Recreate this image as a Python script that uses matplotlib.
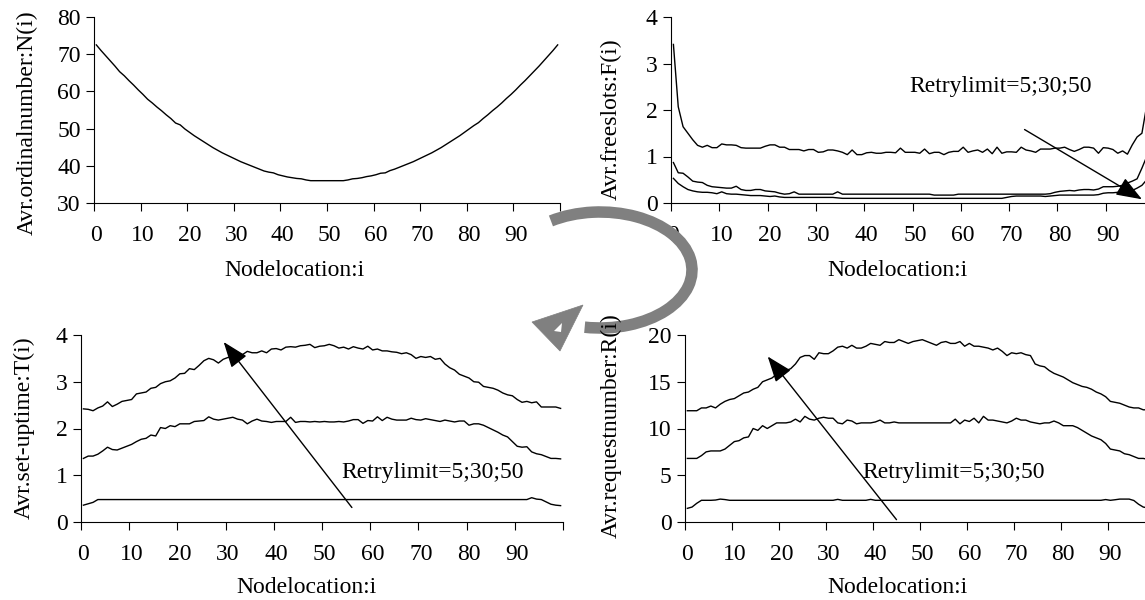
import numpy as np
import matplotlib
matplotlib.use("Agg")
import matplotlib.pyplot as plt
from matplotlib.patches import Arc, Polygon

plt.rcParams['font.family'] = ['Liberation Serif', 'DejaVu Serif']
FS = 17

# ---------------- data ----------------
nodes = np.arange(100)
xtick_vals = list(range(0, 100, 10))

N_ordinal = [
    72.5, 71.0, 69.6, 68.2, 66.8, 65.3, 64.2, 62.9, 61.7, 60.4,
    59.2, 57.9, 56.9, 55.8, 54.8, 53.7, 52.7, 51.5, 51.0, 49.9,
    49.0, 48.1, 47.3, 46.5, 45.7, 44.9, 44.2, 43.5, 42.9, 42.3,
    41.7, 41.1, 40.6, 40.1, 39.6, 39.1, 38.6, 38.3, 38.1, 37.6,
    37.3, 37.0, 36.8, 36.6, 36.5, 36.2, 36.0, 36.0, 36.0, 36.0,
    36.0, 36.0, 36.0, 36.0, 36.2, 36.5, 36.6, 36.8, 37.1, 37.3,
    37.6, 38.0, 38.1, 38.7, 39.1, 39.6, 40.1, 40.6, 41.1, 41.7,
    42.3, 42.9, 43.5, 44.2, 44.9, 45.7, 46.5, 47.3, 48.1, 49.0,
    49.9, 50.8, 51.6, 52.7, 53.7, 54.8, 55.8, 56.9, 58.1, 59.2,
    60.4, 61.7, 62.9, 64.2, 65.5, 66.8, 68.2, 69.6, 71.0, 72.5,
]

F_retry5 = [
    0.53, 0.42, 0.35, 0.29, 0.26, 0.24, 0.23, 0.23, 0.22, 0.20,
    0.24, 0.20, 0.19, 0.19, 0.18, 0.17, 0.16, 0.16, 0.16, 0.15,
    0.14, 0.15, 0.13, 0.12, 0.12, 0.12, 0.12, 0.12, 0.12, 0.12,
    0.12, 0.12, 0.12, 0.12, 0.11, 0.10, 0.10, 0.10, 0.10, 0.10,
    0.10, 0.10, 0.10, 0.10, 0.10, 0.10, 0.10, 0.10, 0.10, 0.10,
    0.10, 0.10, 0.10, 0.10, 0.10, 0.10, 0.10, 0.10, 0.10, 0.10,
    0.10, 0.10, 0.10, 0.10, 0.10, 0.10, 0.10, 0.10, 0.10, 0.12,
    0.14, 0.15, 0.15, 0.15, 0.15, 0.15, 0.15, 0.14, 0.15, 0.16,
    0.17, 0.17, 0.17, 0.17, 0.17, 0.17, 0.17, 0.17, 0.18, 0.21,
    0.22, 0.22, 0.23, 0.24, 0.25, 0.27, 0.32, 0.38, 0.50, 0.60,
]
F_retry30 = [
    0.87, 0.65, 0.64, 0.56, 0.47, 0.45, 0.44, 0.38, 0.35, 0.34,
    0.33, 0.32, 0.32, 0.36, 0.29, 0.27, 0.27, 0.29, 0.29, 0.26,
    0.25, 0.24, 0.21, 0.19, 0.20, 0.24, 0.19, 0.19, 0.19, 0.19,
    0.19, 0.19, 0.19, 0.19, 0.24, 0.19, 0.19, 0.19, 0.19, 0.19,
    0.19, 0.19, 0.19, 0.19, 0.19, 0.19, 0.19, 0.19, 0.19, 0.19,
    0.19, 0.19, 0.19, 0.19, 0.17, 0.17, 0.17, 0.17, 0.17, 0.19,
    0.19, 0.19, 0.19, 0.19, 0.19, 0.19, 0.19, 0.19, 0.19, 0.19,
    0.19, 0.19, 0.19, 0.19, 0.19, 0.19, 0.19, 0.19, 0.20, 0.23,
    0.25, 0.26, 0.27, 0.26, 0.28, 0.29, 0.29, 0.28, 0.30, 0.35,
    0.35, 0.35, 0.36, 0.38, 0.43, 0.47, 0.52, 0.75, 1.00, 1.20,
]
F_retry50 = [
    3.41, 2.07, 1.64, 1.50, 1.36, 1.24, 1.20, 1.24, 1.19, 1.19,
    1.27, 1.25, 1.25, 1.24, 1.19, 1.18, 1.18, 1.18, 1.18, 1.22,
    1.25, 1.25, 1.20, 1.20, 1.15, 1.15, 1.15, 1.12, 1.15, 1.15,
    1.09, 1.10, 1.14, 1.14, 1.12, 1.09, 1.04, 1.14, 1.04, 1.04,
    1.08, 1.09, 1.07, 1.07, 1.09, 1.09, 1.08, 1.18, 1.09, 1.09,
    1.09, 1.07, 1.16, 1.06, 1.09, 1.09, 1.04, 1.09, 1.11, 1.11,
    1.20, 1.09, 1.12, 1.14, 1.09, 1.16, 1.06, 1.20, 1.07, 1.10,
    1.10, 1.09, 1.20, 1.14, 1.12, 1.09, 1.16, 1.16, 1.16, 1.18,
    1.18, 1.20, 1.15, 1.11, 1.15, 1.20, 1.20, 1.18, 1.07, 1.19,
    1.18, 1.15, 1.07, 1.12, 1.05, 1.25, 1.42, 1.50, 2.10, 3.40,
]

T_retry5 = [
    0.36, 0.39, 0.42, 0.48, 0.48, 0.48, 0.48, 0.48, 0.48, 0.48,
    0.48, 0.48, 0.48, 0.48, 0.48, 0.48, 0.48, 0.48, 0.48, 0.48,
    0.48, 0.48, 0.48, 0.48, 0.48, 0.48, 0.48, 0.48, 0.48, 0.48,
    0.48, 0.48, 0.48, 0.48, 0.48, 0.48, 0.48, 0.48, 0.48, 0.48,
    0.48, 0.48, 0.48, 0.48, 0.48, 0.48, 0.48, 0.48, 0.48, 0.48,
    0.48, 0.48, 0.48, 0.48, 0.48, 0.48, 0.48, 0.48, 0.48, 0.48,
    0.48, 0.48, 0.48, 0.48, 0.48, 0.48, 0.48, 0.48, 0.48, 0.48,
    0.48, 0.48, 0.48, 0.48, 0.48, 0.48, 0.48, 0.48, 0.48, 0.48,
    0.48, 0.48, 0.48, 0.48, 0.48, 0.48, 0.48, 0.48, 0.48, 0.48,
    0.48, 0.48, 0.48, 0.52, 0.49, 0.48, 0.43, 0.38, 0.36, 0.35,
]
T_retry30 = [
    1.36, 1.41, 1.41, 1.45, 1.52, 1.60, 1.55, 1.54, 1.58, 1.62,
    1.66, 1.72, 1.77, 1.79, 1.86, 1.84, 2.02, 2.00, 2.06, 2.04,
    2.10, 2.10, 2.10, 2.15, 2.16, 2.17, 2.25, 2.20, 2.18, 2.20,
    2.22, 2.24, 2.20, 2.18, 2.10, 2.16, 2.20, 2.16, 2.15, 2.13,
    2.15, 2.15, 2.15, 2.24, 2.13, 2.15, 2.15, 2.14, 2.15, 2.14,
    2.15, 2.14, 2.14, 2.15, 2.14, 2.16, 2.19, 2.19, 2.11, 2.17,
    2.16, 2.25, 2.17, 2.24, 2.20, 2.18, 2.18, 2.18, 2.22, 2.19,
    2.18, 2.21, 2.19, 2.17, 2.15, 2.18, 2.16, 2.14, 2.16, 2.16,
    2.07, 2.10, 2.10, 2.07, 2.02, 1.97, 1.92, 1.86, 1.82, 1.72,
    1.62, 1.60, 1.61, 1.50, 1.46, 1.44, 1.40, 1.36, 1.36, 1.35,
]
T_retry50 = [
    2.42, 2.41, 2.38, 2.44, 2.48, 2.57, 2.47, 2.52, 2.58, 2.60,
    2.62, 2.74, 2.76, 2.78, 2.86, 2.88, 2.96, 3.00, 3.02, 3.08,
    3.17, 3.18, 3.28, 3.26, 3.35, 3.45, 3.50, 3.47, 3.40, 3.48,
    3.52, 3.52, 3.60, 3.58, 3.65, 3.62, 3.62, 3.66, 3.62, 3.70,
    3.71, 3.68, 3.74, 3.75, 3.74, 3.77, 3.78, 3.80, 3.73, 3.76,
    3.77, 3.80, 3.77, 3.72, 3.74, 3.70, 3.75, 3.72, 3.70, 3.76,
    3.68, 3.70, 3.66, 3.66, 3.64, 3.63, 3.60, 3.62, 3.58, 3.50,
    3.54, 3.52, 3.54, 3.48, 3.50, 3.38, 3.30, 3.25, 3.16, 3.12,
    3.08, 3.00, 2.99, 2.90, 2.88, 2.86, 2.82, 2.76, 2.72, 2.70,
    2.62, 2.56, 2.58, 2.55, 2.57, 2.46, 2.46, 2.46, 2.46, 2.43,
]

R_retry5 = [
    1.46, 1.60, 2.00, 2.32, 2.32, 2.32, 2.35, 2.45, 2.40, 2.32,
    2.32, 2.32, 2.32, 2.32, 2.32, 2.32, 2.32, 2.32, 2.32, 2.32,
    2.32, 2.32, 2.32, 2.32, 2.32, 2.32, 2.32, 2.32, 2.32, 2.32,
    2.32, 2.32, 2.42, 2.32, 2.32, 2.32, 2.32, 2.32, 2.32, 2.42,
    2.32, 2.32, 2.32, 2.32, 2.32, 2.32, 2.32, 2.32, 2.32, 2.32,
    2.32, 2.32, 2.32, 2.32, 2.32, 2.32, 2.32, 2.32, 2.32, 2.32,
    2.32, 2.32, 2.32, 2.32, 2.32, 2.32, 2.32, 2.32, 2.32, 2.32,
    2.32, 2.32, 2.32, 2.32, 2.32, 2.32, 2.32, 2.32, 2.32, 2.32,
    2.32, 2.32, 2.32, 2.32, 2.32, 2.32, 2.32, 2.32, 2.32, 2.40,
    2.32, 2.38, 2.45, 2.45, 2.45, 2.30, 1.90, 1.60, 1.50, 1.46,
]
R_retry30 = [
    6.8, 6.8, 6.8, 7.1, 7.5, 7.6, 7.6, 7.6, 7.8, 8.2,
    8.6, 8.7, 9.0, 9.1, 10.0, 9.8, 10.3, 10.0, 10.3, 10.6,
    10.6, 10.6, 10.7, 11.0, 10.7, 11.3, 11.0, 10.9, 11.1, 11.2,
    11.1, 11.1, 10.6, 10.5, 10.9, 10.8, 10.5, 10.6, 10.6, 10.6,
    10.7, 10.9, 10.6, 10.6, 10.7, 10.6, 10.6, 10.6, 10.6, 10.6,
    10.6, 10.6, 10.6, 10.6, 10.6, 10.6, 10.6, 11.0, 10.5, 10.9,
    10.75, 11.1, 10.6, 11.3, 10.9, 10.9, 10.8, 10.7, 10.6, 10.8,
    11.1, 10.9, 10.9, 10.7, 10.6, 10.5, 10.6, 10.6, 10.8, 10.6,
    10.3, 10.3, 10.3, 10.1, 9.8, 9.5, 9.2, 9.0, 8.8, 8.4,
    7.8, 7.7, 7.6, 7.3, 7.2, 7.0, 6.8, 6.8, 6.7, 6.7,
]
R_retry50 = [
    11.9, 11.9, 11.9, 12.2, 12.2, 12.4, 12.2, 12.6, 12.9, 13.1,
    13.2, 13.5, 13.8, 13.9, 14.2, 14.4, 15.0, 15.2, 15.4, 15.8,
    16.2, 16.2, 16.4, 16.9, 17.6, 17.8, 17.8, 17.4, 18.1, 18.0,
    18.0, 18.3, 18.7, 18.8, 18.6, 18.9, 18.6, 18.6, 18.8, 19.1,
    19.0, 18.9, 19.3, 19.2, 19.2, 19.5, 19.3, 19.1, 19.3, 19.4,
    19.5, 19.3, 19.1, 18.9, 19.2, 19.3, 19.1, 19.1, 19.3, 18.8,
    19.1, 18.8, 18.8, 18.7, 18.6, 18.4, 18.6, 18.25, 17.8, 18.1,
    18.0, 18.1, 17.9, 17.8, 16.9, 16.7, 16.6, 16.2, 15.9, 15.7,
    15.5, 15.2, 14.9, 14.7, 14.5, 14.4, 14.2, 13.9, 13.7, 13.4,
    12.9, 12.8, 12.7, 12.5, 12.3, 12.2, 12.2, 12.0, 12.0, 11.9,
]

annot_text = "Retrylimit=5;30;50"

# ---------------- figure ----------------
fig = plt.figure(figsize=(11.45, 6.0), dpi=100)
W, H = 1145.0, 600.0


def make_axes(x0, x1, ytop, ybot, z):
    ax = fig.add_axes([x0 / W, 1 - ybot / H, (x1 - x0) / W, (ybot - ytop) / H], zorder=z)
    ax.patch.set_alpha(0)
    return ax


def style(ax, ylim, yticks, ylabel, ylab_xy, xlab_xy):
    xpos = nodes + 0.5
    ax.set_xlim(0, 100)
    ax.set_ylim(*ylim)
    ax.set_yticks(yticks)
    ax.set_yticklabels([f"{v:g}" for v in yticks])
    ax.set_xticks(np.arange(0, 101, 10))
    ax.set_xticklabels([])
    ax.set_xticks(np.array(xtick_vals) + 0.5, minor=True)
    ax.set_xticklabels([str(v) for v in xtick_vals], minor=True)
    ax.tick_params(axis='x', which='major', direction='out', length=6, width=0.8, color='black')
    ax.tick_params(axis='x', which='minor', length=0, pad=16, labelsize=FS)
    ax.tick_params(axis='y', direction='out', length=5.5, width=0.8, pad=4, labelsize=FS)
    for s in ['top', 'right']:
        ax.spines[s].set_visible(False)
    for s in ['left', 'bottom']:
        ax.spines[s].set_linewidth(0.8)
    ax.set_ylabel(ylabel, fontsize=FS)
    ax.yaxis.label.set_va('center')
    ax.yaxis.set_label_coords(*ylab_xy)
    ax.set_xlabel("Nodelocation:i", fontsize=FS)
    ax.xaxis.label.set_va('center')
    ax.xaxis.set_label_coords(*xlab_xy)
    return xpos


line_kw = dict(color='black', lw=1.0, clip_on=True)
arrow_kw = dict(arrowstyle='-|>,head_length=0.8,head_width=0.3', color='black',
                lw=1.0, shrinkA=0, shrinkB=0, mutation_scale=20)

# Top-left
ax1 = make_axes(94, 560, 17, 203, 0)
x = style(ax1, (30, 80), [30, 40, 50, 60, 70, 80], "Avr.ordinalnumber:N(i)",
          (-0.144, 0.432), (0.43, -0.362))
ax1.plot(x, N_ordinal, **line_kw)

# Top-right
ax2 = make_axes(671, 1154, 17, 203, 0)
x = style(ax2, (0, 4), [0, 1, 2, 3, 4], "Avr.freeslots:F(i)",
          (-0.124, 0.453), (0.468, -0.362))
for s in (F_retry5, F_retry30, F_retry50):
    ax2.plot(x, s, **line_kw)
ax2.annotate("", xy=(97.5, 0.08), xytext=(73.2, 1.58), arrowprops=arrow_kw)
ax2.text(68.2, 2.51, annot_text, fontsize=FS, ha='center', va='center')

# Bottom-left
ax3 = make_axes(81, 563, 335, 522, 2)
x = style(ax3, (0, 4), [0, 1, 2, 3, 4], "Avr.set-uptime:T(i)",
          (-0.117, 0.507), (0.468, -0.349))
for s in (T_retry5, T_retry30, T_retry50):
    ax3.plot(x, s, **line_kw)
ax3.annotate("", xy=(29.6, 3.85), xytext=(56.2, 0.31), arrowprops=arrow_kw)
ax3.text(72.9, 1.05, annot_text, fontsize=FS, ha='center', va='center')

# Bottom-right
ax4 = make_axes(685, 1155, 335, 522, 2)
x = style(ax4, (0, 20), [0, 5, 10, 15, 20], "Avr.requestnumber:R(i)",
          (-0.157, 0.518), (0.453, -0.348))
for s in (R_retry5, R_retry30, R_retry50):
    ax4.plot(x, s, **line_kw)
ax4.annotate("", xy=(17.6, 17.7), xytext=(45.0, 0.25), arrowprops=arrow_kw)
ax4.text(57.2, 5.25, annot_text, fontsize=FS, ha='center', va='center')

# Grey curved arrow (decoration, pixel space)
ov = fig.add_axes([0, 0, 1, 1], zorder=1)
ov.set_xlim(0, W)
ov.set_ylim(0, H)
ov.set_axis_off()
grey = '#808080'
ov.add_patch(Arc((600, H - 270), 184, 116, theta1=-105, theta2=135,
                 lw=8.3, color=grey, capstyle='butt'))
ov.add_patch(Polygon([(532, H - 322), (583, H - 305), (560, H - 351)],
                     closed=True, facecolor=grey, edgecolor=grey, lw=0.5))
ov.add_patch(Polygon([(554, H - 331), (562, H - 323), (561, H - 332)],
                     closed=True, facecolor='white', edgecolor='none'))

fig.savefig("out.png", dpi=100)
